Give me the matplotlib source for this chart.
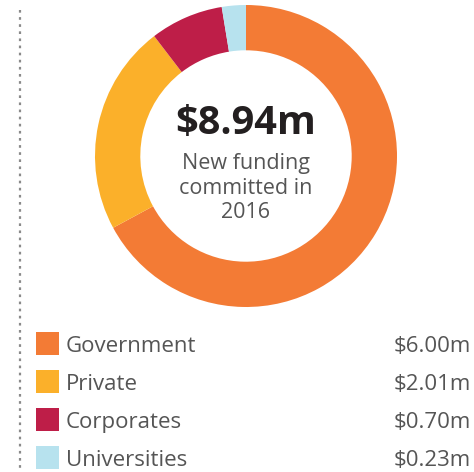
import matplotlib
matplotlib.use("Agg")
import matplotlib.pyplot as plt
from matplotlib.patches import Rectangle

categories = ["Government", "Private", "Corporates", "Universities"]
values = [6.00, 2.01, 0.70, 0.23]
value_labels = ["$6.00m", "$2.01m", "$0.70m", "$0.23m"]
colors = ["#F37B35", "#FBB02A", "#BE1E48", "#B7E2EE"]
total_label = "$8.94m"
center_lines = ["New funding", "committed in", "2016"]

W, H = 474, 472
fig = plt.figure(figsize=(W / 100, H / 100), dpi=100)
plt.rcParams['font.family'] = ['Open Sans', 'DejaVu Sans']

# Donut
cx, cy, R = 246, 156, 151
ax = fig.add_axes([(cx - R) / W, (H - (cy + R)) / H, 2 * R / W, 2 * R / H])
ax.pie(values, colors=colors, startangle=90, counterclock=False, radius=1,
       wedgeprops=dict(width=0.30, linewidth=0))
ax.set_xlim(-1, 1)
ax.set_ylim(-1, 1)
ax.set_aspect('equal')
ax.axis('off')

# Overlay in pixel coords
ov = fig.add_axes([0, 0, 1, 1], zorder=5)
ov.set_xlim(0, W)
ov.set_ylim(H, 0)
ov.axis('off')
ov.patch.set_alpha(0)

# dotted vertical line
ov.plot([20, 20], [10, H], color="#8a8a8a", linewidth=1.6,
        linestyle=(0, (1.2, 2.0)), solid_capstyle='butt')

# center texts
ov.text(cx, 124, total_label, ha='center', va='center', fontsize=28.5,
        fontweight='bold', color="#231F20")
for i, line in enumerate(center_lines):
    ov.text(cx, 164 + i * 24.5, line, ha='center', va='center', fontsize=15.5,
            fontweight='normal', color="#555555")

# legend
y0, dy = 332, 38
for i, (cat, val, col) in enumerate(zip(categories, value_labels, colors)):
    y = y0 + i * dy
    ov.add_patch(Rectangle((36, y), 23, 23, facecolor=col, edgecolor='none'))
    ov.text(66, y + 14.5, cat, ha='left', va='center', fontsize=16,
            fontweight='normal', color="#555555")
    ov.text(471, y + 14.5, val, ha='right', va='center', fontsize=16,
            fontweight='normal', color="#555555")

fig.savefig("out.png", dpi=100)
